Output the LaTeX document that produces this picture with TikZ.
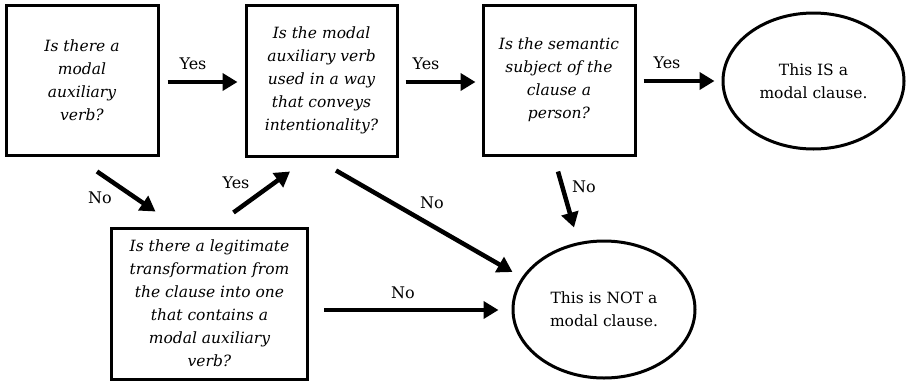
\documentclass[tikz,border=0pt]{standalone}
\usepackage{fontspec}
\setmainfont{DejaVu Serif}
\usetikzlibrary{arrows.meta,shapes.geometric}
\begin{document}
\begin{tikzpicture}[x=1pt,y=-1pt,
  box/.style={draw,line width=3pt,rectangle,align=center,inner sep=0pt,font=\fontsize{15.5}{23}\selectfont\itshape},
  oval/.style={draw,line width=3pt,ellipse,align=center,inner sep=0pt,font=\fontsize{15.5}{23}\selectfont},
  arr/.style={line width=4.5pt,-{Triangle[length=15pt,width=17pt]}},
  lab/.style={font=\fontsize{16}{18}\selectfont,inner sep=0pt}]
\useasboundingbox (0,0) rectangle (911,381);
\node[box,minimum width=152pt,minimum height=150pt] (b1) at (82,80)
  {Is there a\\modal\\auxiliary\\verb?};
\node[box,minimum width=151pt,minimum height=151pt] (b2) at (321.5,80.5)
  {Is the modal\\auxiliary verb\\used in a way\\that conveys\\intentionality?};
\node[box,minimum width=152pt,minimum height=150pt] (b3) at (559,80)
  {Is the semantic\\subject of the\\clause a\\person?};
\node[box,minimum width=196pt,minimum height=151pt] (b4) at (209.5,303.5)
  {Is there a legitimate\\transformation from\\the clause into one\\that contains a\\modal auxiliary\\verb?};
\node[oval,minimum width=181pt,minimum height=136pt] (e1) at (813.5,81)
  {This IS a\\modal clause.};
\node[oval,minimum width=182pt,minimum height=137pt] (e2) at (604,309.5)
  {This is NOT a\\modal clause.};
\draw[arr] ([shift={(8pt,-2pt)}]b1.east) -- ([shift={(-7pt,-1.5pt)}]b2.west);
\draw[arr] ([shift={(7pt,-1.5pt)}]b2.east) -- ([shift={(-6pt,-2pt)}]b3.west);
\draw[arr] ([shift={(7pt,-1pt)}]b3.east) -- ([shift={(-7pt,0pt)}]e1.west);
\draw[arr] ([shift={(15pt,-15pt)}]b1.south) -- ([shift={(-54pt,15pt)}]b4.north);
\draw[arr] ([shift={(24pt,14pt)}]b4.north) -- ([shift={(-31.5pt,-14pt)}]b2.south);
\draw[arr] ([shift={(14.5pt,-13pt)}]b2.south) -- ([shift={(1pt,37.5pt)}]e2.west);
\draw[arr] ([shift={(-1pt,-15pt)}]b3.south) -- ([shift={(-30pt,12pt)}]e2.north);
\draw[arr] ([shift={(15pt,-6.5pt)}]b4.east) -- ([shift={(-13pt,-0.5pt)}]e2.west);
\node[lab] (y1) at (193,64) {Yes};
\node[lab] (y2) at (426,64) {Yes};
\node[lab] (y3) at (667,63) {Yes};
\node[lab] (n1) at (100,198) {No};
\node[lab] (y4) at (236,183) {Yes};
\node[lab] (n2) at (432,203) {No};
\node[lab] (n3) at (584,187) {No};
\node[lab] (n4) at (403,293) {No};
\end{tikzpicture}
\end{document}
